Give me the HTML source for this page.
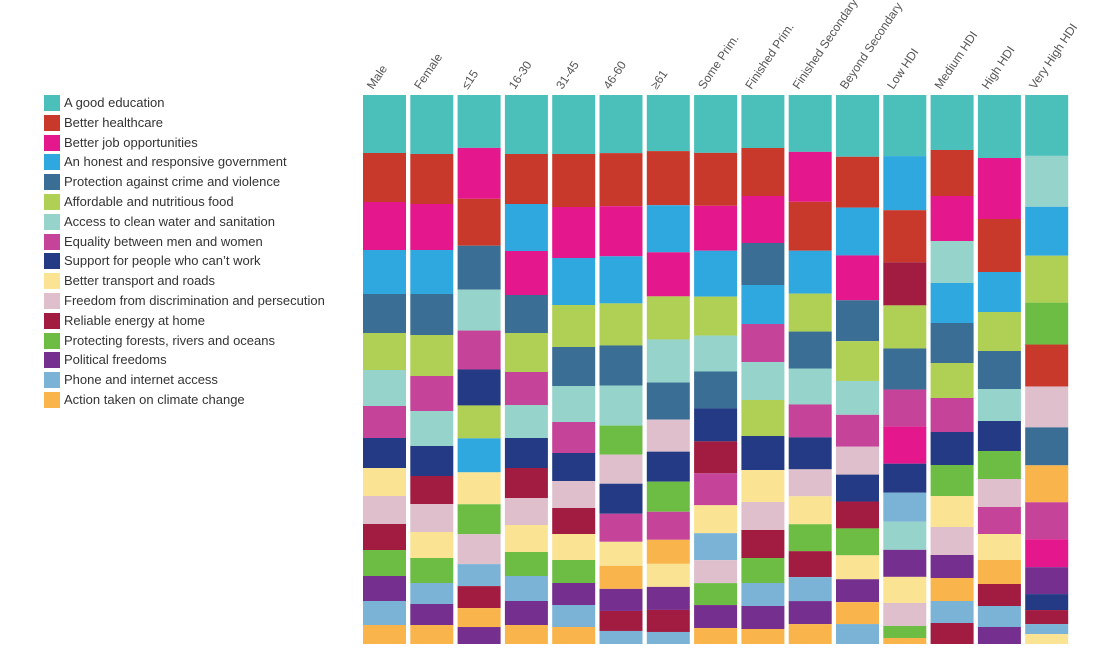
<!DOCTYPE html>
<html><head><meta charset="utf-8"><style>
body{margin:0;background:#fff;font-family:"Liberation Sans",sans-serif;}
#wrap{position:relative;width:1114px;height:666px;overflow:hidden;}
.leg{position:absolute;left:44px;height:16px;font-size:13px;color:#333;line-height:16px;white-space:nowrap;}
.leg span{display:inline-block;width:16px;height:16px;vertical-align:top;margin-right:4px;}
</style></head><body>
<div id="wrap">
<div id="legend"></div>
<svg id="svg" width="1114" height="666" style="position:absolute;left:0;top:0"></svg>
</div>
<script>
const topics=["A good education","Better healthcare","Better job opportunities","An honest and responsive government","Protection against crime and violence","Affordable and nutritious food","Access to clean water and sanitation","Equality between men and women","Support for people who can't work","Better transport and roads","Freedom from discrimination and persecution","Reliable energy at home","Protecting forests, rivers and oceans","Political freedoms","Phone and internet access","Action taken on climate change"];
const colors=["#4bbfba","#c9392b","#e5178c","#2ea8df","#3a6e95","#afcf55","#96d3ca","#c5449a","#243a84","#fae392","#debfcb","#a11c40","#6dbd45","#752f8e","#7bb3d6","#f9b54b"];
const categories=["Male","Female","≤15","16-30","31-45","46-60","≥61","Some Prim.","Finished Prim.","Finished Secondary","Beyond Secondary","Low HDI","Medium HDI","High HDI","Very High HDI"];
const stackOrder=[
[0,1,2,3,4,5,6,7,8,9,10,11,12,13,14,15],
[0,1,2,3,4,5,7,6,8,11,10,9,12,14,13,15],
[0,2,1,4,6,7,8,5,3,9,12,10,14,11,15,13],
[0,1,3,2,4,5,7,6,8,11,10,9,12,14,13,15],
[0,1,2,3,5,4,6,7,8,10,11,9,12,13,14,15],
[0,1,2,3,5,4,6,12,10,8,7,9,15,13,11,14],
[0,1,3,2,5,6,4,10,8,12,7,15,9,13,11,14],
[0,1,2,3,5,6,4,8,11,7,9,14,10,12,13,15],
[0,1,2,4,3,7,6,5,8,9,10,11,12,14,13,15],
[0,2,1,3,5,4,6,7,8,10,9,12,11,14,13,15],
[0,1,3,2,4,5,6,7,10,8,11,12,9,13,15,14],
[0,3,1,11,5,4,7,2,8,14,6,13,9,10,12,15],
[0,1,2,6,3,4,5,7,8,12,9,10,13,15,14,11],
[0,2,1,3,5,4,6,8,12,10,7,9,15,11,14,13],
[0,6,3,5,12,1,10,4,15,7,2,13,8,11,14,9]];
const stackValues=[
[58,49,48,44,39,37,36,32,30,28,28,26,26,25,24,19],
[59,50,46,44,41,41,35,35,30,28,28,26,25,21,21,19],
[53,51,47,44,41,39,36,33,34,32,30,30,22,22,19,17],
[59,50,47,44,38,39,33,33,30,30,27,27,24,25,24,19],
[59,53,51,47,42,39,36,31,28,27,26,26,23,22,22,17],
[58,53,50,47,42,40,40,29,29,30,28,24,23,22,20,13],
[56,54,47,44,43,43,37,32,30,30,28,24,23,23,22,12],
[58,53,45,46,39,36,37,33,32,32,28,27,23,22,23,16],
[53,48,47,42,39,38,38,36,34,32,28,28,25,23,23,15],
[57,50,49,43,38,37,36,33,32,27,28,27,26,24,23,20],
[62,51,48,45,41,40,34,32,28,27,27,27,24,23,22,20],
[61,54,52,43,43,41,37,37,29,29,28,27,26,23,12,6],
[55,46,45,42,40,40,35,34,33,31,31,28,23,23,22,21],
[63,61,53,40,39,38,32,30,28,28,27,26,24,22,21,17],
[61,51,49,47,42,42,41,38,37,37,28,27,16,14,10,10]];

const NS="http://www.w3.org/2000/svg";
const svg=document.getElementById('svg');
const X0=363,PITCH=47.3,BW=43,TOP=95,BOT=644;
function xPos(i){return X0+i*PITCH;}
function yScale(frac){return TOP+frac*(BOT-TOP);}
const legend=document.getElementById('legend');
topics.forEach((t,i)=>{
  const d=document.createElement('div');
  d.className='leg';d.style.top=(95+i*19.8)+'px';
  
  
  d.innerHTML='<span style="background:'+colors[i]+'"></span>'+t.replace(/'/g,"’");
  legend.appendChild(d);
});
categories.forEach((c,ci)=>{
  const vals=stackValues[ci];const tot=vals.reduce((a,b)=>a+b,0);
  let acc=0;
  vals.forEach((v,k)=>{
    const y0=yScale(acc/tot);acc+=v;const y1=yScale(acc/tot);
    const r=document.createElementNS(NS,'rect');
    r.setAttribute('x',xPos(ci));r.setAttribute('y',y0);
    r.setAttribute('width',BW);r.setAttribute('height',y1-y0);
    r.setAttribute('fill',colors[stackOrder[ci][k]]);
    
    
    svg.appendChild(r);
  });
  const t=document.createElementNS(NS,'text');
  const tx=xPos(ci)+10,ty=90;
  t.setAttribute('x',tx);t.setAttribute('y',ty);
  t.setAttribute('transform','rotate(-56 '+tx+' '+ty+')');
  t.setAttribute('font-size','12');t.setAttribute('fill','#555');
  t.setAttribute('font-family','Liberation Sans, sans-serif');
  t.textContent=c;
  
  
  svg.appendChild(t);
});
</script>
</body></html>
